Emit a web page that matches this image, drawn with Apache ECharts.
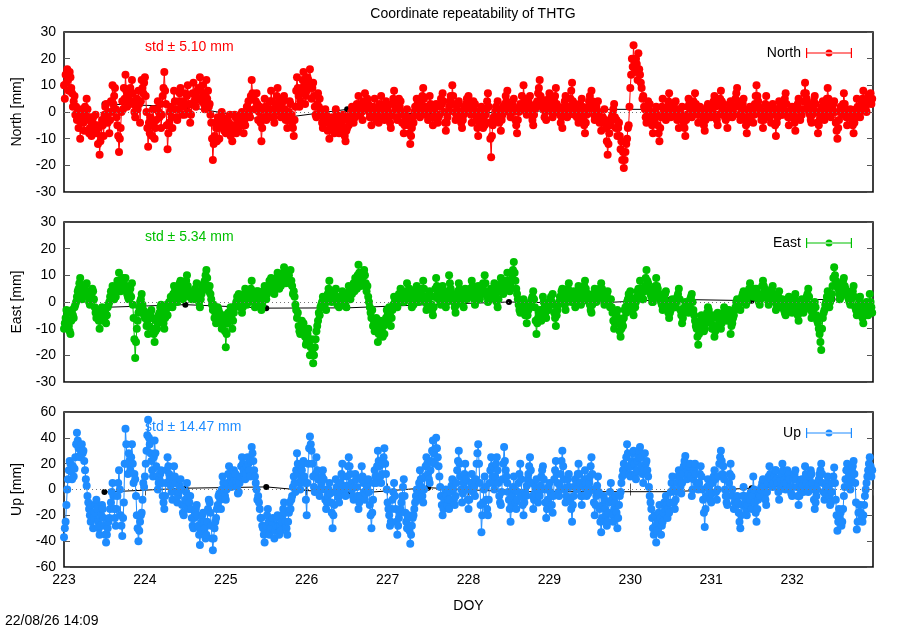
<!DOCTYPE html>
<html>
<head>
<meta charset="utf-8">
<title>Coordinate repeatability of THTG</title>
<script src="https://cdn.jsdelivr.net/npm/echarts/dist/echarts.min.js"></script>
<style>
  html, body { margin: 0; padding: 0; background: #fff; }
  #chart { width: 900px; height: 630px; }
</style>
</head>
<body>
<div id="chart"></div>
<script>
// sampling: first epoch and step (days)
const doyStart = 223;
const doyStep = 0.01;
const dayTicks = ['223', '224', '225', '226', '227', '228', '229', '230', '231', '232'];

// north residuals [mm], 100 epochs per day
const northVals = [
  10,5, 14,11, 16,12, 8,15, 13,9, 7,2, 4,6, -1,2, -3,0, -6,-2, -10,-4, 1,-3, -4,-7, 2,-1, 5,1, -3,-8, -6,-2, -9,-4, -2,-7, -5,-1, -8,-5, -12,-6, -16,-11, -9,-3, -5,-9, -1,2, 3,-2, -4,0, -8,-3, 4,0, 10,3, 6,9, 1,-2, -5,-9, -15,-10, -6,0, 4,1, 9,5, 14,8, 2,7, 6,3, 9,4, 12,7, 3,0, -2,2, 5,1, 8,3, -4,4, 12,9, 7,11,
  13,6, 0,-6, -13,-4, -8,-2, -5,-9, 1,-4, -10,-6, -3,1, 4,0, -2,3, -6,-1, 6,9, 15,8, 3,-5, -14,-8, -4,0, 2,-2, -6,1, 8,4, 1,-2, -3,1, 4,7, 9,3, -1,4, 2,-1, 7,3, 6,10, 0,3, -4,-1, 3,7, 11,4, 6,2, 5,8, 9,5, 13,8, 4,10, 7,3, 1,6, 12,5, 8,2, 3,-1, -4,-10, -18,-12, -9,-4, -6,-11, -2,-6, -10,-3, -5,0, -2,-5, -7,-3,
  -8,-5, -3,-7, -4,-1, -9,-6, -11,-7, -5,-1, -2,-8, -6,-3, -7,-3, -1,-5, 0,-4, -8,-3, -5,-1, 2,-2, 4,0, -2,6, 12,7, 5,1, 1,4, 7,3, -3,0, 2,-4, -11,-6, -2,1, 5,2, -3,1, 0,-2, 4,1, 8,4, 1,-2, -4,0, 3,6, 9,2, 5,0, -2,3, 1,4, 6,1, -3,-1, -6,-3, 0,4, 3,-1, -4,-6, -9,-3, 2,8, 13,9, 6,2, 4,7, 9,12, 15,10, 3,6,
  8,13, 12,9, 16,10, 5,9, 11,6, 2,-1, -2,3, 7,2, 5,1, -1,-4, -6,-3, -2,1, -1,-4, -7,-3, -10,-6, -5,-2, -4,-6, -8,-4, 1,-1, -3,-6, -8,-4, -2,-5, -3,-1, -7,-9, -11,-7, -6,-3, -5,-2, -1,0, 2,-1, -4,0, -2,1, 3,0, 6,2, -1,3, 0,-3, 4,2, 7,3, 1,5, 3,0, -2,1, -5,-2, 2,-1, 5,1, -3,0, -1,-4, 3,1, 6,2, -2,1, -3,0, 4,1,
  2,0, -2,-4, -6,-1, 3,5, 8,4, 1,-2, -3,1, 5,2, 4,0, -4,-1, -8,-5, -1,-3, 1,-2, -5,-8, -12,-9, -6,-2, -4,0, 2,-1, 5,3, -1,1, -2,1, 4,6, 9,5, 2,-1, 0,2, -3,1, 6,3, 1,-2, -5,-2, 0,2, 3,-1, -4,-2, -1,2, 5,3, 7,4, 0,-4, -7,-4, -2,0, 2,4, 6,3, 10,6, 3,0, -3,-1, 1,3, 4,0, -2,-4, -6,-3, -1,2, 1,3, 5,2,
  6,3, 1,-1, -4,0, 4,1, 3,-1, -3,-6, -9,-4, -2,0, 2,-2, -6,-3, -5,-1, 1,4, 7,2, -4,-10, -17,-9, -5,-2, -3,0, 2,-1, 4,1, -4,-2, -7,-3, -1,2, 1,3, 6,4, 8,3, 0,2, -2,1, 3,0, 5,1, -3,-5, -8,-3, 0,2, 3,1, 6,3, 10,5, 2,0, -1,2, 4,1, 6,2, -1,-3, -5,-1, 1,3, 2,4, 7,9, 12,6, 5,2, 4,1, -2,0, -3,1, 3,5,
  7,4, 2,0, -2,1, 4,6, 9,3, 0,2, 1,-1, -4,-2, -6,-1, 2,4, 6,1, -2,0, -1,2, 5,8, 11,4, 1,-1, 3,0, -2,1, -4,-1, 3,1, 5,2, -3,-5, -8,-4, -1,1, 2,4, 6,3, 8,4, 1,-1, -3,0, 2,-1, 4,0, -4,-2, -7,-4, -2,-4, 1,-3, -6,-11, -16,-12, -8,-4, -5,-2, -1,1, 3,-2, -6,-3, -9,-6, -4,-9, -14,-11, -18,-15, -21,-18, -15,-12, -10,-6, -5,2,
  9,14, 20,17, 25,19, 15,20, 18,12, 22,16, 14,11, 9,5, 6,2, 1,-2, -4,0, 4,1, 3,0, -2,-5, -8,-4, -3,0, 2,-1, -5,-8, -11,-6, -2,2, 5,1, 0,-2, -3,0, 2,4, 7,3, -2,0, -1,2, 3,0, 4,1, -3,-1, -6,-2, 1,-1, 2,-2, -4,-6, -9,-3, -1,2, 5,3, 0,-1, -2,1, 4,2, 7,3, 1,-1, -4,-1, 2,0, 1,-1, -3,-5, -7,-3, 0,2, 3,0, -2,0,
  -2,1, 2,4, 6,2, -1,-3, -5,-1, 3,5, 8,4, 1,3, 0,-2, -3,-1, -6,-2, 1,3, 4,1, -2,0, -1,2, 5,7, 9,4, 2,-1, -3,-1, 1,3, 5,1, -2,-5, -8,-4, -3,0, 2,-2, -1,1, -4,-1, 3,6, 10,6, 4,2, 1,-1, -3,-1, -6,-3, 0,3, 6,2, 1,-1, -2,0, -4,-1, 3,1, 0,-5, -9,-4, -2,1, 4,2, 1,-1, -1,1, 3,5, 7,3, 0,-2, -5,-2, -1,1,
  2,0, -2,-4, -7,-2, 1,3, 5,1, -3,-1, -1,1, 4,7, 11,7, 5,2, 3,0, -1,-3, -4,-1, 2,4, 6,3, 0,-4, -8,-5, -3,-1, 1,2, 4,0, -3,-1, 2,5, 9,5, 3,0, -2,0, 1,3, 4,0, -4,-7, -10,-6, -3,0, 2,0, -1,3, 7,3, 1,-2, -5,-2, 0,-1, 1,-1, -3,-5, -8,-4, -2,1, 5,2, 0,-1, -2,1, 3,5, 8,4, 2,1, 0,3, 6,4, 5,7, 3,5
];

// east residuals [mm]
const eastVals = [
  -10,-8, -6,-3, -4,-7, -9,-11, -12,-7, -3,-5, -6,-2, -1,0, 2,4, 5,7, 9,5, 1,2, 3,5, 6,3, 7,4, 2,0, -1,1, 3,5, 4,1, -2,-4, -6,-5, -3,-7, -10,-7, -5,-2, -3,-5, -7,-4, -8,-5, -2,-1, 0,2, 4,3, 6,4, 1,3, 2,5, 8,6, 11,7, 4,6, 5,9, 8,5, 9,6, 3,2, 1,3, 5,2, 7,-1, -6,-14, -21,-15, -10,-7, -4,-2, 0,1, 3,-1, -3,-5,
  -6,-4, -9,-7, -12,-9, -6,-4, -3,-6, -10,-12, -15,-11, -7,-10, -8,-5, -4,-2, -1,-4, -6,-8, -10,-6, -3,-1, -5,-2, 0,-1, 2,0, -2,3, 6,4, 2,1, 0,3, 5,7, 8,5, 3,1, 3,5, 6,8, 10,6, 4,2, 4,3, 1,3, 1,2, 5,4, 7,4, 2,0, -2,1, 3,6, 5,7, 8,10, 12,9, 6,4, 6,3, 1,-1, -3,-1, -6,-4, -8,-5, -2,-3, -4,-6, -7,-10, -9,-6, -5,-11,
  -17,-12, -8,-4, -5,-7, -2,-6, -10,-7, -4,-2, -1,0, 2,-1, 3,1, -2,0, -4,-2, 1,3, 5,2, -1,1, 0,2, 3,5, 8,4, 2,0, -2,1, 4,2, 4,1, 0,-2, -3,-1, 2,4, 6,3, 1,3, 5,6, 8,6, 9,7, 4,6, 3,5, 7,9, 11,8, 5,7, 6,8, 9,11, 13,10, 7,9, 8,11, 10,7, 12,8, 6,3, 4,2, -1,-3, -6,-4, -9,-11, -12,-9, -7,-10, -8,-11, -13,-16,
  -15,-12, -10,-16, -20,-17, -14,-19, -23,-20, -17,-14, -11,-9, -7,-4, -5,-2, -1,0, 2,-1, -2,1, -3,0, 3,5, 8,4, 2,0, 1,3, 4,2, 5,2, -1,1, -2,0, 2,1, 4,2, -1,1, 0,-2, 3,1, 6,4, 1,3, 3,5, 7,4, 9,6, 5,10, 14,11, 8,6, 7,9, 10,12, 10,7, 4,6, 2,0, -2,-4, -6,-3, -9,-7, -11,-8, -6,-9, -15,-12, -10,-7, -8,-11, -13,-9, -12,-8, -6,-3,
  -5,-7, -2,-5, -9,-6, -3,-1, 2,0, -1,1, -2,0, 3,1, 5,2, 1,3, 0,2, 4,1, 7,4, 2,5, 3,0, -2,1, -1,1, 3,4, 6,3, 0,2, 1,3, 5,2, 8,5, 2,0, -3,-1, 1,3, 4,2, -1,-3, -5,-2, 2,5, 9,6, 4,1, 2,0, -1,2, 6,4, 3,1, -2,0, 1,4, 10,7, 5,2, 3,1, 0,-2, -4,-1, 2,4, 7,5, 3,1, 0,2, -2,1, 5,3, 1,3,
  2,4, 5,3, 8,6, 3,1, -1,2, 4,2, 6,4, 1,3, 3,5, 7,4, 10,7, 4,2, 0,2, 3,1, 5,3, 1,4, 7,5, 2,0, -2,1, 4,6, 9,7, 5,3, 4,6, 8,5, 11,8, 6,4, 6,8, 9,12, 15,11, 8,5, 3,1, -1,-3, -4,-2, -1,0, 1,-2, -5,-3, -8,-5, -3,-1, -2,0, 1,2, 4,1, -2,-7, -12,-8, -6,-4, -3,-5, -7,-3, 2,0, -2,-4, -6,-3, -1,-3,
  -1,1, 2,0, 3,-1, -4,-6, -9,-5, -3,-1, 0,2, 2,4, 5,3, 1,-1, -3,0, 3,5, 7,4, 2,0, 1,3, 4,1, -2,0, 2,4, 6,3, 1,-1, 0,2, 4,6, 8,5, 3,1, 3,0, -1,-3, -4,-1, 1,3, 5,2, 0,1, 2,3, 5,4, 7,5, 3,1, -1,0, 2,3, 4,1, -1,-2, 1,-2, -4,-7, -10,-8, -6,-4, -3,-6, -8,-11, -13,-10, -7,-9, -6,-3, -2,-4, 0,1, 3,2,
  4,1, -1,-3, -5,-2, -2,0, 2,4, 5,3, 8,5, 3,1, 1,4, 6,9, 12,8, 7,4, 5,3, 2,0, 0,2, 4,6, 9,6, 5,2, 3,1, 0,-1, -3,-1, 1,3, 4,0, -2,-4, -6,-4, -3,-1, 1,-1, -1,0, -2,0, 2,3, 5,1, -3,-5, -8,-6, -4,-2, 0,-1, -2,-3, -4,-1, 1,2, 3,0, -3,-5, -7,-9, -10,-13, -16,-12, -9,-7, -5,-6, -8,-11, -10,-8, -6,-4, -2,-3, -5,-7,
  -8,-10, -5,-9, -13,-11, -9,-6, -4,-6, -7,-9, -10,-8, -6,-4, -2,-4, -5,-3, -7,-5, -3,-6, -12,-9, -8,-6, -5,-3, -2,0, 1,-2, -1,0, -3,0, 2,3, 4,2, 1,-1, 0,2, 3,5, 7,5, 4,3, 2,4, 5,3, 5,2, 1,0, -1,1, 3,6, 8,6, 5,3, 3,2, 1,-1, 0,2, 4,5, 6,3, 2,0, -3,-1, 0,2, 4,1, -2,-1, 1,-1, -3,-4, -5,-2, -1,0, 2,0, -2,-3,
  -4,-2, 0,2, 3,0, -3,-5, -7,-4, -2,0, 1,-1, -4,-2, -2,0, 2,3, 5,2, -1,-3, -6,-4, -3,-1, 0,-2, -5,-7, -8,-10, -12,-15, -18,-10, -6,-4, -3,-1, 0,2, 4,1, -2,0, 1,3, 6,9, 13,10, 8,6, 7,5, 3,1, 2,4, 6,8, 9,6, 5,3, 4,2, 1,0, -1,1, 3,4, 6,2, -2,-3, -5,-3, -1,0, 2,-1, -4,-6, -8,-5, -3,-1, 0,-2, -5,-1, 3,0, -2,-4
];

// up residuals [mm]
const upVals = [
  -37,-30, -25,-12, 0,8, 15,22, 20,14, 8,18, 10,16, 25,35, 44,38, 32,26, 25,30, 35,28, 30,22, 15,8, 3,-5, -10,-15, -20,-25, -12,-18, -30,-22, -18,-12, -8,-15, -25,-30, -35,-28, -20,-12, -15,-22, -28,-35, -41,-35, -30,-25, -22,-15, -10,-2, 5,-5, -15,-22, -28,-15, -5,5, 15,0, -20,-28, -36,-22, -10,20, 47,35, 20,12, 28,22, 15,25, 35,20, 5,12, 8,-5, -20,-30, -40,-32, -25,-20, -18,-8, 5,2,
  10,20, 30,42, 54,40, 35,28, 22,15, 10,25, 38,28, 18,10, 0,5, 8,12, 15,5, -5,-10, -15,-5, 5,15, 25,18, 12,8, 3,-2, -8,5, 18,10, 5,-2, -10,-5, -2,3, 8,0, -12,-18, -20,-12, -8,-2, 5,-5, -15,-10, -5,-15, -22,-28, -30,-22, -18,-15, -12,-20, -28,-35, -43,-32, -25,-20, -18,-25, -30,-38, -35,-25, -15,-8, -10,-18, -28,-38, -47,-38, -30,-25, -22,-15, -12,-5, -3,-8, -15,0, 10,5, 0,-5,
  -8,0, 5,12, 18,12, 8,2, 5,10, 15,8, 12,5, 2,-3, -2,5, 10,18, 25,20, 15,10, 8,12, 18,25, 20,15, 10,22, 33,28, 22,15, 10,5, 0,-8, -5,-10, -15,-22, -22,-28, -30,-35, -41,-32, -28,-20, -15,-25, -35,-30, -30,-25, -22,-30, -38,-32, -28,-22, -20,-28, -35,-28, -32,-25, -20,-15, -10,-18, -25,-30, -35,-25, -18,-10, -15,-8, -5,2, 10,5, -2,15, 28,20, 12,5, 0,8, 15,20, 22,10, 5,-8,
  -20,5, 20,32, 41,35, 30,20, 10,2, -2,12, 25,15, 8,0, -5,0, 5,10, 15,8, 0,-8, -15,-10, -5,0, 5,-3, -10,-18, -30,-20, -12,-2, 8,2, -2,-6, -10,-2, 5,12, 20,10, 2,-2, -5,3, 10,18, 25,18, 12,5, 0,-5, -8,2, 12,8, 2,-5, -15,-10, -5,8, 18,10, 5,-2, -8,-3, 0,3, 8,-2, -12,-20, -30,-18, -8,5, 15,10, 5,18, 30,22, 18,10, 5,12, 20,25, 32,20, 12,0,
  -10,-15, -20,-28, -25,-15, -8,-2, 5,-5, -15,-25, -35,-28, -22,-18, -15,-10, -5,2, 8,-5, -18,-25, -30,-22, -20,-32, -42,-35, -28,-22, -20,-15, -10,-5, 0,-3, -8,5, 15,8, 2,-5, -10,0, 10,18, 25,20, 12,8, 5,15, 22,30, 38,28, 20,32, 40,32, 25,18, 10,2, -5,-12, -20,-15, -8,-3, 0,-5, -12,-8, -15,-8, -2,3, 8,0, -8,-12, -5,5, 15,22, 30,20, 10,0, -10,-3, 5,12, 20,8, 0,-8,
  -15,-8, 0,5, 12,5, -2,2, -5,8, 20,28, 35,20, 5,-12, -33,-20, -10,0, 10,2, -8,-15, -20,-8, 5,15, 25,18, 10,5, 0,10, 20,25, 15,5, -5,-10, -12,-2, 8,20, 33,22, 15,10, 5,-2, -8,-15, -25,-12, -5,2, 10,0, -10,-15, -8,-2, 5,12, 20,8, -5,-12, -20,-10, -2,-5, 3,8, 12,18, 25,15, 5,-5, -15,-8, -3,2, 8,0, -10,-2, -5,3, 10,15, 18,8, 0,-10, -22,-15, -8,2,
  5,-2, -5,-12, -18,-5, 8,15, 22,12, 5,-2, -5,3, 12,22, 30,18, 8,0, -10,-5, 2,8, 12,2, -8,-15, -25,-12, -5,2, 8,4, 0,12, 20,12, 5,-5, -12,-5, 2,8, 15,5, -5,0, -3,5, 10,18, 25,12, 0,-10, -20,-12, -5,3, 10,-2, -15,-25, -33,-22, -12,-5, -8,-15, -20,-28, -25,-18, -10,-2, 5,-8, -20,-25, -15,-10, -5,-18, -30,-22, -12,-5, -2,5, 10,15, 20,15, 12,25, 35,28, 18,12,
  10,18, 22,28, 30,20, 12,8, 15,22, 25,30, 33,25, 18,12, 5,15, 28,20, 22,15, 10,2, -5,-10, -15,-22, -30,-35, -20,-28, -41,-32, -25,-18, -12,-22, -35,-28, -25,-18, -10,-15, -5,-12, -22,-15, -18,-10, -2,5, 10,0, -10,-15, -8,-2, 5,10, 15,8, 2,-3, 5,12, 18,22, 26,18, 8,15, 12,18, 20,10, -5,0, 8,15, 20,12, 5,2, 0,5, 12,18, 10,0, -8,-18, -29,-15, -5,2, 8,3, -2,-8,
  -10,-3, 5,10, 15,8, -2,-8, 0,10, 20,25, 30,22, 12,18, 8,0, -5,-10, -12,-5, 5,12, 20,10, 0,-5, -15,-10, -8,-12, -5,-10, -18,-25, -30,-20, -12,-5, 2,-5, -10,-15, -20,-12, -5,-10, -8,-2, -15,-5, 10,0, -10,-18, -25,-15, -8,-3, -5,0, 2,5, 8,2, -5,-8, -12,-2, 5,10, 18,12, 8,3, 2,5, 10,15, 15,8, 5,-2, -8,0, 8,12, 20,15, 5,8, 0,5, 15,10, 12,8, 2,-3,
  -5,2, 8,12, 15,8, 2,-5, -12,-5, 5,0, 8,3, -2,8, 18,12, 5,0, -2,3, 10,15, 12,5, 0,-8, -15,-10, -5,0, 5,8, 12,15, 20,12, 5,-2, -8,-3, 2,5, 10,2, -5,-12, -10,-2, 5,10, 17,5, -8,-20, -32,-25, -15,-22, -18,-28, -25,-15, -5,2, 8,15, 20,15, 10,5, 0,8, 15,18, 22,12, 5,-10, -31,-25, -18,-12, -12,-18, -22,-25, -20,-12, -5,0, 5,10, 15,20, 25,18, 10,15
];

// daily solutions (black)
const meanDoy = [223.5, 224.5, 225.5, 226.5, 227.5, 228.5, 229.5, 230.5, 231.5, 232.5];
const northMean = [3, 2, -3, 1, -1, 0, 1, 1, 1.5, 1];
const eastMean = [-2, -1, -2.3, -2.2, -1, 0, -0.5, 1, 0.5, 1];
const upMean = [-2, 1, 2, -3.5, 1.4, -1.7, -1.7, -1.7, 1, 4.8];

const stdTexts = ['std \u00b1 5.10 mm', 'std \u00b1 5.34 mm', 'std \u00b1 14.47 mm'];

const FONT = 'Liberation Sans, Arial, sans-serif';
const colors = ['#ff0000', '#00c000', '#1e8cff'];
const names = ['North', 'East', 'Up'];
const yNames = ['North [mm]', 'East [mm]', 'Up [mm]'];
const yRange = [[-30, 30, 10], [-30, 30, 10], [-60, 60, 20]];
const gridTops = [32, 222, 412];
const gridHeights = [160, 160, 155];
const errIcon = 'path://M0,4.4H46V5.6H0Z M0,0H1.2V10H0Z M44.8,0H46V10H44.8Z M19.5,5A3.5,3.5,0,1,0,26.5,5A3.5,3.5,0,1,0,19.5,5Z';

function toPairs(vals) {
  return vals.map((v, i) => [+(doyStart + i * doyStep).toFixed(2), v]);
}
function meanPairs(vals) {
  return vals.map((v, i) => [meanDoy[i], v]);
}

const chart = echarts.init(document.getElementById('chart'), null, { renderer: 'canvas' });

const grids = gridTops.map((t, i) => ({
  left: 64, top: t, width: 809, height: gridHeights[i],
  show: true, borderColor: '#000', borderWidth: 1.5, backgroundColor: 'transparent'
}));

const xAxes = [
  { gridIndex: 0, type: 'value', min: 223, max: 233, show: false },
  { gridIndex: 1, type: 'value', min: 223, max: 233, show: false },
  {
    gridIndex: 2, type: 'value', min: 223, max: 233, interval: 1, position: 'bottom',
    name: 'DOY', nameLocation: 'middle', nameGap: 32,
    nameTextStyle: { fontSize: 14, color: '#000', fontFamily: FONT },
    axisLine: { show: false },
    axisTick: { inside: true, length: 6, lineStyle: { color: '#555' } },
    axisLabel: {
      fontSize: 14, color: '#000', fontFamily: FONT, margin: 6, showMaxLabel: false,
      formatter: v => dayTicks[Math.round(v - 223)] || ''
    },
    splitLine: { show: false }
  },
  {
    gridIndex: 2, type: 'value', min: 223, max: 233, interval: 1, position: 'top',
    axisLine: { show: false },
    axisTick: { inside: true, length: 6, lineStyle: { color: '#555' } },
    axisLabel: { show: false },
    splitLine: { show: false }
  }
];

const yAxes = [];
yRange.forEach((r, i) => {
  yAxes.push({
    gridIndex: i, type: 'value', min: r[0], max: r[1], interval: r[2], position: 'left',
    name: yNames[i], nameLocation: 'middle', nameGap: 40, nameRotate: 90,
    nameTextStyle: { fontSize: 14, color: '#000', fontFamily: FONT },
    axisLine: { show: false },
    axisTick: { inside: true, length: 6, lineStyle: { color: '#555' } },
    axisLabel: { fontSize: 14, color: '#000', fontFamily: FONT, margin: 8 },
    splitLine: { show: false }
  });
  yAxes.push({
    gridIndex: i, type: 'value', min: r[0], max: r[1], interval: r[2], position: 'right',
    axisLine: { show: false },
    axisTick: { inside: true, length: 6, lineStyle: { color: '#555' } },
    axisLabel: { show: false },
    splitLine: { show: false }
  });
});

const seriesVals = [northVals, eastVals, upVals];
const meanVals = [northMean, eastMean, upMean];
const xIdx = [0, 1, 2];
const series = [];
for (let i = 0; i < 3; i++) {
  // daily solution + dotted zero line (under the residuals)
  series.push({
    name: names[i] + ' daily', type: 'line', xAxisIndex: xIdx[i], yAxisIndex: i * 2,
    data: meanPairs(meanVals[i]), z: 1,
    symbol: 'circle', symbolSize: 6, showAllSymbol: true,
    itemStyle: { color: '#000' }, lineStyle: { color: '#000', width: 1 },
    markLine: {
      silent: true, symbol: 'none', label: { show: false },
      lineStyle: { color: '#777', type: [1, 3], width: 1 },
      data: [{ yAxis: 0 }]
    }
  });
  series.push({
    name: names[i], type: 'line', xAxisIndex: xIdx[i], yAxisIndex: i * 2,
    data: toPairs(seriesVals[i]), z: 2,
    symbol: 'circle', symbolSize: 8, showAllSymbol: true,
    itemStyle: { color: colors[i] }, lineStyle: { color: colors[i], width: 1 }
  });
}

const legends = names.map((n, i) => ({
  data: [n], right: 43, top: gridTops[i] + 9, align: 'right', orient: 'horizontal',
  icon: errIcon, itemWidth: 46, itemHeight: 10, itemGap: 4,
  textStyle: { fontSize: 14, color: '#000', fontFamily: FONT }
}));

const texts = stdTexts.map((t, i) => ({
  type: 'text', left: 145, top: gridTops[i] + 8,
  style: { text: t, fill: colors[i], font: '14px ' + FONT }
}));
texts.push({
  type: 'text', left: 5, top: 614,
  style: { text: '22/08/26 14:09', fill: '#000', font: '14px ' + FONT }
});

chart.setOption({
  animation: false,
  backgroundColor: '#fff',
  textStyle: { fontFamily: FONT },
  title: {
    text: 'Coordinate repeatability of THTG', left: 468, top: 2, textAlign: 'center',
    textStyle: { fontSize: 14, fontWeight: 'normal', color: '#000', fontFamily: FONT }
  },
  legend: legends,
  grid: grids,
  xAxis: xAxes,
  yAxis: yAxes,
  series: series,
  graphic: texts
});
</script>
</body>
</html>
